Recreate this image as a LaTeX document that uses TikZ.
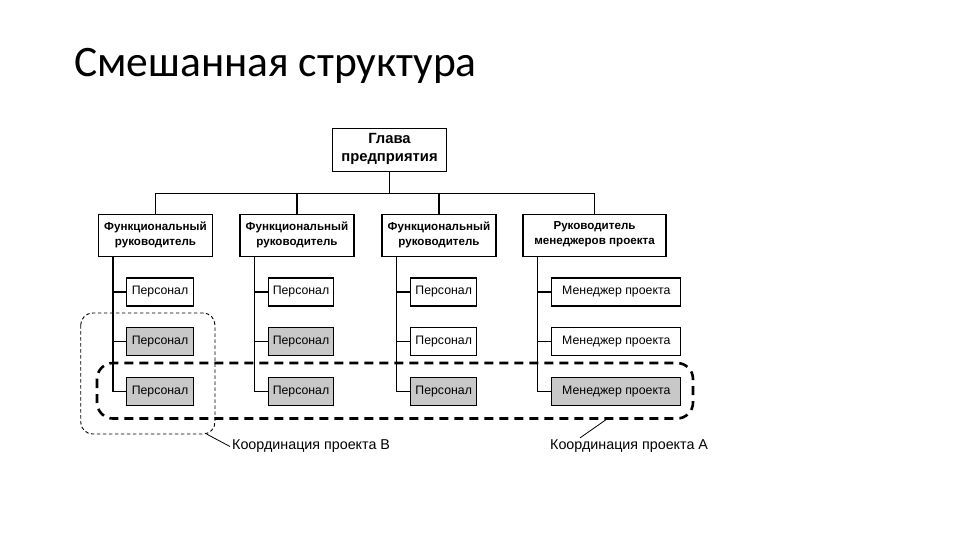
\documentclass[tikz,border=0pt]{standalone}
\usepackage{fontspec}
\setmainfont{Liberation Sans}
\newfontfamily\titlefont{Carlito}
\usepackage{tikz}
\definecolor{shade}{RGB}{200, 200, 200}

\begin{document}
\begin{tikzpicture}[x=1pt, y=-1pt,
    box/.style={draw, line width=1.3pt, fill=white, align=center, inner sep=1pt,
        execute at begin node=\strut, execute at end node=\strut},
    chief/.style={box, font=\fontsize{14.8}{17.3}\selectfont\bfseries, minimum width=114pt, minimum height=43pt},
    head/.style={box, font=\fontsize{11.6}{15}\selectfont\bfseries, minimum height=42pt},
    staff/.style={box, font=\fontsize{12.3}{14}\selectfont, minimum height=28pt},
    grey/.style={fill=shade},
    link/.style={line width=1.3pt},
    projb/.style={dashed, line width=0.9pt, dash pattern=on 3.5pt off 2.5pt, rounded corners=12pt},
    proja/.style={line width=2.6pt, dash pattern=on 9pt off 6pt, rounded corners=16pt}]
    \useasboundingbox (0,0) rectangle (960,540);

    % Title
    \node[anchor=base west, inner sep=0pt, font=\titlefont\fontsize{43.5}{50}\selectfont] (title) at (74,77) {Смешанная структура};

    % Head of the company
    \node[chief] (chief) at (389.5,150) {Глава\\предприятия};

    % Second level
    \node[head, minimum width=114pt] (f1) at (155.5,235.5) {Функциональный\\руководитель};
    \node[head, minimum width=114pt] (f2) at (297,235.5) {Функциональный\\руководитель};
    \node[head, minimum width=114pt] (f3) at (439,235.5) {Функциональный\\руководитель};
    \node[head, minimum width=143pt] (f4) at (594.5,235.5) {Руководитель\\менеджеров проекта};

    % Bus from the head
    \foreach \f in {f1,f2,f3,f4}
        \draw[link] (chief.south) -- ++(0,21.5) -| (\f.north);

    % Staff, column by column
    \node[staff, minimum width=67pt] (p11) at (160,292) {Персонал};
    \node[staff, minimum width=67pt, grey] (p12) at (160,341.7) {Персонал};
    \node[staff, minimum width=67pt, grey] (p13) at (160,391.2) {Персонал};

    \node[staff, minimum width=65pt] (p21) at (301,292) {Персонал};
    \node[staff, minimum width=65pt, grey] (p22) at (301,341.7) {Персонал};
    \node[staff, minimum width=65pt, grey] (p23) at (301,391.2) {Персонал};

    \node[staff, minimum width=66pt] (p31) at (443.7,292) {Персонал};
    \node[staff, minimum width=66pt] (p32) at (443.7,341.7) {Персонал};
    \node[staff, minimum width=66pt, grey] (p33) at (443.7,391.2) {Персонал};

    \node[staff, minimum width=129pt] (p41) at (616.3,292) {Менеджер проекта};
    \node[staff, minimum width=129pt] (p42) at (616.3,341.7) {Менеджер проекта};
    \node[staff, minimum width=129pt, grey] (p43) at (616.3,391.2) {Менеджер проекта};

    % Trunks down each column
    \foreach \c in {1,2,3,4}
        \foreach \r in {1,2,3}
            \draw[link] ([xshift=15pt]f\c.south west) |- (p\c\r.west);

    % Project coordination regions
    \draw[projb] (80.7,313) rectangle (215,434);
    \draw[proja] (97,363) rectangle (693,418.5);

    % Labels
    \node[anchor=west, inner sep=2pt, font=\fontsize{14.3}{16}\selectfont] (labB) at (230,446.5) {Координация проекта В};
    \node[anchor=west, inner sep=2pt, font=\fontsize{14.3}{16}\selectfont] (labA) at (548,446.5) {Координация проекта А};
    \draw[line width=0.8pt] (206.5,434) -- (labB.west);
    \draw[line width=0.8pt] (607,419) -- ([xshift=32pt]labA.north west);
\end{tikzpicture}
\end{document}
